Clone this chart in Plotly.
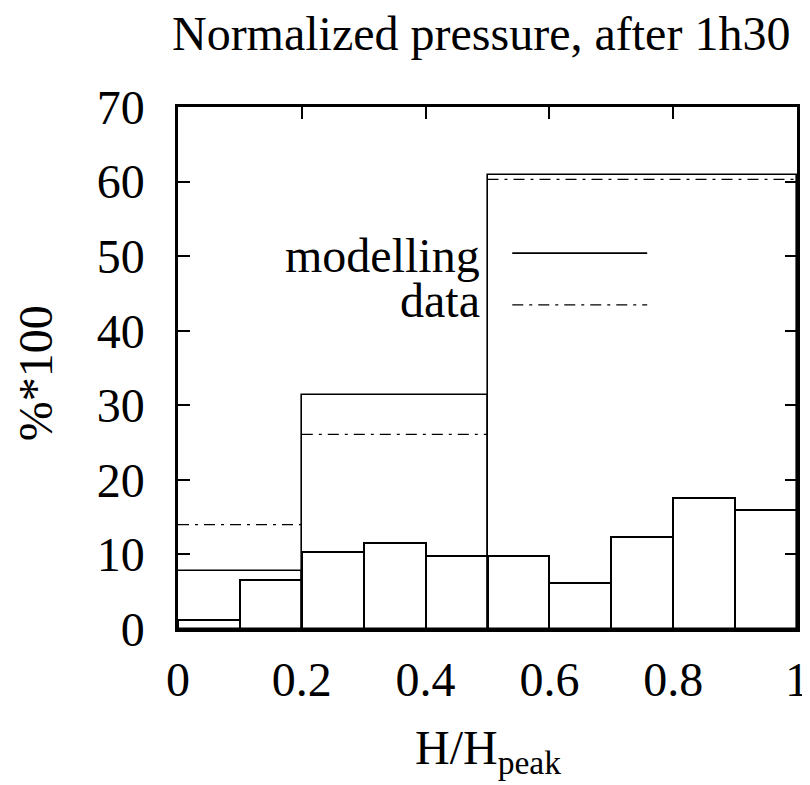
import plotly.graph_objects as go

# Fine histogram (bin width 0.1)
fine_left = [0.0, 0.1, 0.2, 0.3, 0.4, 0.5, 0.6, 0.7, 0.8, 0.9]
fine_vals = [1.2, 6.6, 10.3, 11.5, 9.8, 9.8, 6.2, 12.3, 17.6, 15.9]
fine_width = 0.1

# Coarse bins: modelling (solid) and data (dash-dot)
coarse_edges = [0.0, 0.2, 0.5, 1.0]
modelling_vals = [7.8, 31.4, 60.9]
data_vals = [14.0, 26.1, 60.3]

x_ticks = [0, 0.2, 0.4, 0.6, 0.8, 1]
x_tick_text = ["0", "0.2", "0.4", "0.6", "0.8", "1"]
y_ticks = [0, 10, 20, 30, 40, 50, 60, 70]

FONT = "Liberation Serif, Times New Roman, serif"
FS = 48
DASH = "11px,6px,3px,6px"

fig = go.Figure()

fig.add_trace(go.Bar(
    x=[l + fine_width / 2 for l in fine_left], y=fine_vals, width=fine_width,
    marker=dict(color="white", line=dict(color="black", width=2)),
    showlegend=False, hoverinfo="skip"))

coarse_mid = [(a + b) / 2 for a, b in zip(coarse_edges[:-1], coarse_edges[1:])]
coarse_w = [b - a for a, b in zip(coarse_edges[:-1], coarse_edges[1:])]
fig.add_trace(go.Bar(
    x=coarse_mid, y=modelling_vals, width=coarse_w,
    marker=dict(color="rgba(0,0,0,0)", line=dict(color="black", width=1.6)),
    showlegend=False, hoverinfo="skip"))

dx, dy = [], []
for a, b, v in zip(coarse_edges[:-1], coarse_edges[1:], data_vals):
    dx += [a, b, None]
    dy += [v, v, None]
fig.add_trace(go.Scatter(
    x=dx, y=dy, mode="lines",
    line=dict(color="black", width=1.4, dash=DASH),
    showlegend=False, hoverinfo="skip"))

# Legend (drawn manually, gnuplot style)
fig.add_annotation(x=0.491, y=0.716, xref="paper", yref="paper", text="modelling",
                   showarrow=False, xanchor="right", yanchor="middle",
                   font=dict(family=FONT, size=FS, color="black"))
fig.add_annotation(x=0.491, y=0.630, xref="paper", yref="paper", text="data",
                   showarrow=False, xanchor="right", yanchor="middle",
                   font=dict(family=FONT, size=FS, color="black"))
fig.add_shape(type="line", xref="paper", yref="paper", x0=0.540, x1=0.758,
              y0=0.720, y1=0.720, line=dict(color="black", width=1.6))
fig.add_shape(type="line", xref="paper", yref="paper", x0=0.540, x1=0.758,
              y0=0.621, y1=0.621,
              line=dict(color="black", width=1.4, dash=DASH))

# Axis titles
fig.add_annotation(x=0.5, y=0, xref="paper", yref="paper",
                   text="H/H<sub>peak</sub>", showarrow=False,
                   xanchor="center", yanchor="middle", yshift=-122,
                   font=dict(family=FONT, size=FS, color="black"))
fig.add_annotation(x=0, y=0.49, xref="paper", yref="paper",
                   text="%*100", showarrow=False, textangle=-90,
                   xanchor="center", yanchor="middle", xshift=-143,
                   font=dict(family=FONT, size=FS, color="black"))

fig.update_layout(
    width=802, height=777,
    margin=dict(l=170, r=13, t=99, b=156),
    paper_bgcolor="white", plot_bgcolor="white",
    barmode="overlay", bargap=0,
    font=dict(family=FONT, size=FS, color="black"),
    title=dict(text="Normalized pressure, after 1h30", x=0.590, xanchor="center",
               y=0.968, yanchor="middle",
               font=dict(family=FONT, size=FS, color="black")),
    xaxis=dict(range=[0, 1], tickvals=x_ticks, ticktext=x_tick_text,
               ticks="inside", ticklen=12, tickwidth=2, tickcolor="black",
               showline=True, linewidth=2.5, linecolor="black", mirror="ticks",
               showgrid=False, zeroline=False, automargin=False,
               ticklabelstandoff=7,
               tickfont=dict(family=FONT, size=FS)),
    yaxis=dict(range=[0, 70], tickvals=y_ticks,
               ticks="inside", ticklen=12, tickwidth=2, tickcolor="black",
               showline=True, linewidth=2.5, linecolor="black", mirror="ticks",
               showgrid=False, zeroline=False, automargin=False,
               ticklabelstandoff=21,
               tickfont=dict(family=FONT, size=FS)),
)

fig.write_html("out.html")
